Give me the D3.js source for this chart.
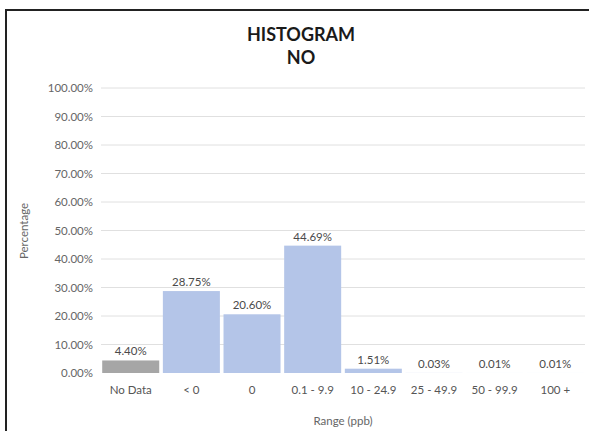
<!DOCTYPE html>
<html><head><meta charset="utf-8">
<script src="https://cdn.jsdelivr.net/npm/d3@7"></script>
<style>body{margin:0;background:#fff;}svg{display:block;font-family:Lato,"Open Sans",sans-serif;}</style>
</head><body>
<svg id="c" width="589" height="431"></svg>
<script>
const categories = ["No Data","< 0","0","0.1 - 9.9","10 - 24.9","25 - 49.9","50 - 99.9","100 +"];
const values = [4.40, 28.75, 20.60, 44.69, 1.51, 0.03, 0.01, 0.01];
const valueLabels = ["4.40%","28.75%","20.60%","44.69%","1.51%","0.03%","0.01%","0.01%"];
const yTicks = [0,10,20,30,40,50,60,70,80,90,100];
const barColors = ["#a6a6a6","#b4c5e8","#b4c5e8","#b4c5e8","#b4c5e8","#b4c5e8","#b4c5e8","#b4c5e8"];

const svg = d3.select("#c");
const fs = "11.5px";
// outer frame
svg.append("rect").attr("x",6).attr("y",10).attr("width",600).attr("height",440)
  .attr("fill","#fff").attr("stroke","#222").attr("stroke-width",2);

const x = d3.scaleBand().domain(categories).range([101,585]).paddingInner(0.06).paddingOuter(0.02);
const y = d3.scaleLinear().domain([0,100]).range([373,88]);

// gridlines
svg.append("g").selectAll("line").data(yTicks.filter(d=>d>0)).join("line")
  .attr("x1",101).attr("x2",585).attr("y1",d=>y(d)).attr("y2",d=>y(d))
  .attr("stroke","#e0e0e0").attr("stroke-width",1);

// y axis
const yAxis = d3.axisLeft(y).tickValues(yTicks).tickSize(0).tickPadding(0)
  .tickFormat(d=>d.toFixed(2)+"%");
const gy = svg.append("g").attr("transform","translate(93,0)").call(yAxis);
gy.select(".domain").remove();
gy.selectAll("text").attr("fill","#666").style("font-size",fs).style("font-family","Lato,sans-serif");

// bars
svg.append("g").selectAll("rect").data(values).join("rect")
  .attr("x",(d,i)=>x(categories[i])).attr("width",x.bandwidth())
  .attr("y",d=>y(d)).attr("height",d=>y(0)-y(d))
  .attr("fill",(d,i)=>barColors[i]);

// value labels
svg.append("g").selectAll("text").data(values).join("text")
  .attr("x",(d,i)=>x(categories[i])+x.bandwidth()/2)
  .attr("y",d=>y(d)-5)
  .attr("text-anchor","middle").attr("fill","#4a4a4a").style("font-size",fs)
  .text((d,i)=>valueLabels[i]);

// x axis
const xAxis = d3.axisBottom(x).tickSize(0).tickPadding(0);
const gx = svg.append("g").attr("transform","translate(0,386)").call(xAxis);
gx.select(".domain").remove();
gx.selectAll("text").attr("fill","#555").style("font-size",fs).style("font-family","Lato,sans-serif");

// titles
svg.append("text").attr("x",301).attr("y",41).attr("text-anchor","middle")
  .style("font-weight","bold").style("font-size","18px").attr("fill","#1a1a1a").text("HISTOGRAM");
svg.append("text").attr("x",301).attr("y",64).attr("text-anchor","middle")
  .style("font-weight","bold").style("font-size","18px").attr("fill","#1a1a1a").text("NO");

// axis titles
svg.append("text").attr("x",343).attr("y",425).attr("text-anchor","middle")
  .attr("fill","#666").style("font-size",fs).text("Range (ppb)");
svg.append("text").attr("transform","translate(28,231) rotate(-90)").attr("text-anchor","middle")
  .attr("fill","#666").style("font-size",fs).text("Percentage");
</script>
</body></html>
